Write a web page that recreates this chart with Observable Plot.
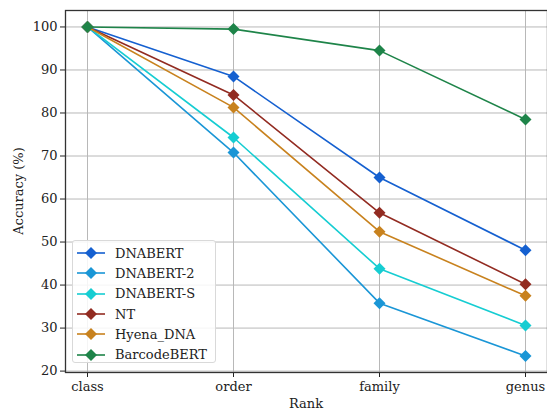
<!DOCTYPE html>
<html><head><meta charset="utf-8">
<script src="https://cdn.jsdelivr.net/npm/d3@7"></script>
<script src="https://cdn.jsdelivr.net/npm/@observablehq/plot@0.6"></script>
<style>
body{margin:0;background:#fff;}
#wrap{position:relative;width:547px;height:411px;font-family:"DejaVu Serif",serif;color:#222;}
#legend{position:absolute;left:72px;top:240px;width:144px;height:123px;box-sizing:border-box;border:1px solid #d9d9d9;border-radius:3px;background:rgba(255,255,255,0.85);padding-top:2px;}
.row{display:flex;align-items:center;height:20.3px;font-size:13px;white-space:nowrap;}
.row svg{flex:0 0 auto;margin-left:4px;margin-right:10px;}
.lab{position:absolute;font-size:13px;white-space:nowrap;}
</style>
</head><body><div id="wrap"></div>
<script>
const ranks = ["class", "order", "family", "genus"];
const models = ["DNABERT", "DNABERT-2", "DNABERT-S", "NT", "Hyena_DNA", "BarcodeBERT"];
const colors = ["#1560d0", "#1a96d6", "#16cdd2", "#922b21", "#c8821e", "#1e8449"];
const dnabert     = [100, 88.5, 65.0, 48.1];
const dnabert2    = [100, 70.8, 35.8, 23.5];
const dnabertS    = [100, 74.3, 43.8, 30.6];
const nt          = [100, 84.2, 56.8, 40.2];
const hyena       = [100, 81.3, 52.4, 37.5];
const barcodebert = [100, 99.5, 94.5, 78.5];
const yTicks = [20, 30, 40, 50, 60, 70, 80, 90, 100];

const series = [dnabert, dnabert2, dnabertS, nt, hyena, barcodebert];
const data = [];
models.forEach((m, i) => series[i].forEach((v, j) => data.push({model: m, rank: ranks[j], acc: v})));

const marks = [
  Plot.gridX(ranks, {stroke: "#b8b8b8", strokeOpacity: 1, strokeWidth: 1}),
  Plot.gridY(yTicks, {stroke: "#b8b8b8", strokeOpacity: 1, strokeWidth: 1})
];
models.forEach((m, i) => {
  const d = data.filter(r => r.model === m);
  marks.push(Plot.line(d, {x: "rank", y: "acc", stroke: colors[i], strokeWidth: 1.6}));
  marks.push(Plot.dot(d, {x: "rank", y: "acc", fill: colors[i], symbol: "diamond2", r: 5.4, stroke: "none"}));
});
marks.push(Plot.frame({stroke: "#333", strokeWidth: 1.3}));

const chart = Plot.plot({
  width: 547, height: 411,
  marginLeft: 65, marginRight: 0, marginTop: 10, marginBottom: 39,
  style: {fontFamily: "'DejaVu Serif', serif", fontSize: "13px", color: "#222", background: "#fff"},
  x: {type: "point", domain: ranks, padding: 0.15, label: null, tickSize: 5, tickPadding: 4},
  y: {domain: [19.675, 103.825], ticks: yTicks, label: null, tickSize: 5, tickPadding: 3},
  marks
});
const wrap = document.getElementById("wrap");
wrap.appendChild(chart);

const xl = document.createElement("div");
xl.className = "lab"; xl.textContent = "Rank";
xl.style.left = "306px"; xl.style.top = "396px"; xl.style.transform = "translateX(-50%)";
wrap.appendChild(xl);
const yl = document.createElement("div");
yl.className = "lab"; yl.textContent = "Accuracy (%)";
yl.style.left = "18px"; yl.style.top = "191px"; yl.style.transform = "translate(-50%,-50%) rotate(-90deg)";
wrap.appendChild(yl);

const leg = document.createElement("div");
leg.id = "legend";
models.forEach((m, i) => {
  const row = document.createElement("div");
  row.className = "row";
  row.innerHTML = `<svg width="28" height="14"><line x1="0" x2="28" y1="7" y2="7" stroke="${colors[i]}" stroke-width="1.6"/><path d="M14,1 L20,7 L14,13 L8,7 Z" fill="${colors[i]}"/></svg><span>${m}</span>`;
  leg.appendChild(row);
});
wrap.appendChild(leg);
</script>
</body></html>
